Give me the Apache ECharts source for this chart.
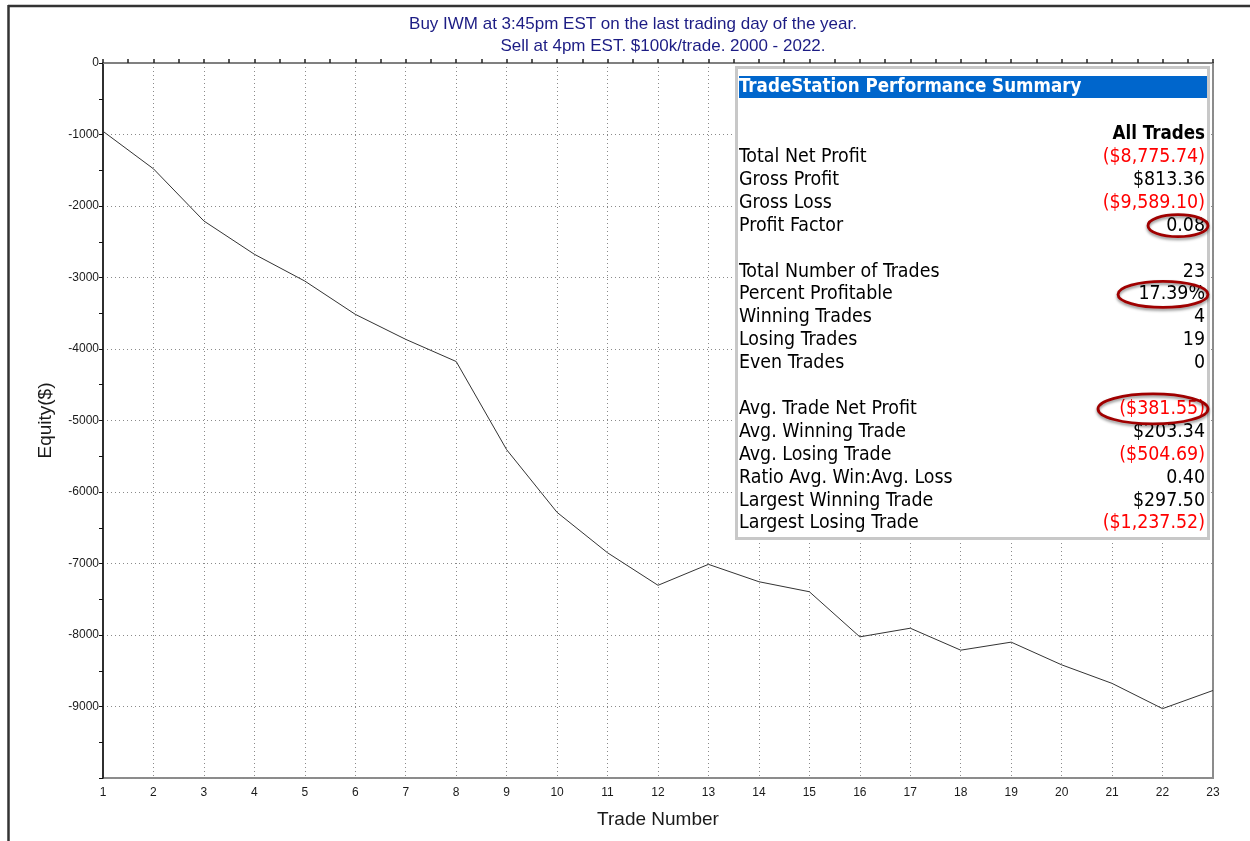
<!DOCTYPE html>
<html>
<head>
<meta charset="utf-8">
<script src="https://cdn.jsdelivr.net/npm/echarts@6/dist/echarts.min.js"></script>
<style>
    html, body { margin: 0; padding: 0; background: #fff; }
    #chart { width: 1250px; height: 841px; }
</style>
</head>
<body>
<div id="chart"></div>
<script>
// equity curve
const trades = [1, 2, 3, 4, 5, 6, 7, 8, 9, 10, 11, 12, 13, 14, 15, 16, 17, 18, 19, 20, 21, 22, 23]
const equity = [
    -955, -1480, -2210, -2675, -3050, -3515, -3865, -4175, -5408, -6285,
    -6850, -7305, -7012, -7255, -7395, -8026, -7905, -8212, -8100, -8417,
    -8677, -9030, -8776
]

const titleLines = [
    'Buy IWM at 3:45pm EST on the last trading day of the year.',
    'Sell at 4pm EST. $100k/trade. 2000 - 2022.'
]

// performance summary box (row = slot in the table, gaps are blank rows)
const summaryLabels = [
    'Total Net Profit', 'Gross Profit', 'Gross Loss', 'Profit Factor',
    'Total Number of Trades', 'Percent Profitable', 'Winning Trades', 'Losing Trades', 'Even Trades',
    'Avg. Trade Net Profit', 'Avg. Winning Trade', 'Avg. Losing Trade', 'Ratio Avg. Win:Avg. Loss',
    'Largest Winning Trade', 'Largest Losing Trade'
]
const summaryValues = [
    '($8,775.74)', '$813.36', '($9,589.10)', '0.08',
    '23', '17.39%', '4', '19', '0',
    '($381.55)', '$203.34', '($504.69)', '0.40',
    '$297.50', '($1,237.52)'
]
const summaryRows = [0, 1, 2, 3, 5, 6, 7, 8, 9, 11, 12, 13, 14, 15, 16]
const circledRows = [3, 6, 11]

const boxFont = "'DejaVu Sans Condensed', 'DejaVu Sans', sans-serif"
const rowY = (r) => 157 + r * 22.9

const graphics = []
// outer frame
graphics.push({ type: 'line', shape: { x1: 8, y1: 6, x2: 1250, y2: 6 }, style: { stroke: '#333', lineWidth: 2.5 } })
graphics.push({ type: 'line', shape: { x1: 8.5, y1: 5, x2: 8.5, y2: 841 }, style: { stroke: '#333', lineWidth: 2.5 } })
// titles
titleLines.forEach((t, i) => {
    graphics.push({
        type: 'text', x: i === 0 ? 633 : 663, y: 24 + i * 22,
        style: { text: t, fill: '#1c1c84', font: '17px "Liberation Sans", Arial', align: 'center', verticalAlign: 'middle' }
    })
})
// summary box
graphics.push({ type: 'rect', shape: { x: 736.5, y: 67.5, width: 472, height: 471 }, style: { fill: '#fff', stroke: '#c8c8c8', lineWidth: 3 }, z: 10 })
graphics.push({ type: 'rect', shape: { x: 739, y: 76, width: 468, height: 22 }, style: { fill: '#0066cc' }, z: 11 })
graphics.push({
    type: 'text', x: 739, y: 87, z: 12,
    style: { text: 'TradeStation Performance Summary', fill: '#fff', font: 'bold 18.6px ' + boxFont, verticalAlign: 'middle' }
})
graphics.push({
    type: 'text', x: 1205, y: rowY(-1), z: 12,
    style: { text: 'All Trades', fill: '#000', font: 'bold 18.6px ' + boxFont, align: 'right', verticalAlign: 'middle' }
})
summaryLabels.forEach((lab, i) => {
    const y = rowY(summaryRows[i])
    const val = summaryValues[i]
    graphics.push({ type: 'text', x: 739, y: y, z: 12, style: { text: lab, fill: '#000', font: '19.4px ' + boxFont, verticalAlign: 'middle' } })
    graphics.push({
        type: 'text', x: 1205, y: y, z: 12,
        style: { text: val, fill: val.startsWith('(') ? '#ff0000' : '#000', font: '19.4px ' + boxFont, align: 'right', verticalAlign: 'middle' }
    })
})
// red marker ellipses
const ellipseSize = [[30, 11], [45, 13], [55, 15]]
circledRows.forEach((r, i) => {
    const [rx, ry] = ellipseSize[i]
    graphics.push({
        type: 'ellipse', z: 13,
        shape: { cx: 1208 - rx, cy: rowY(r), rx: rx, ry: ry },
        style: { fill: 'none', stroke: '#a00000', lineWidth: 2.8, shadowBlur: 3, shadowColor: 'rgba(0,0,0,0.45)', shadowOffsetY: 2 }
    })
})

const labelFont = { color: '#1a1a1a', fontSize: 12, fontFamily: 'Liberation Sans' }
const gridDots = { show: true, lineStyle: { color: '#8a8a8a', type: [1, 3], width: 1 } }

const option = {
    animation: false,
    backgroundColor: '#fff',
    grid: { left: 103, right: 37, top: 63, bottom: 63, show: true, borderColor: '#8c8c8c', borderWidth: 2 },
    xAxis: [
        {
            type: 'value', min: 1, max: 23, interval: 1,
            name: 'Trade Number', nameLocation: 'middle', nameGap: 32,
            nameTextStyle: { color: '#1a1a1a', fontSize: 19, fontFamily: 'Liberation Sans' },
            axisLine: { show: true, lineStyle: { color: '#808080', width: 2 } },
            axisTick: { show: false },
            axisLabel: Object.assign({ margin: 9 }, labelFont),
            splitLine: gridDots
        },
        {
            type: 'value', position: 'top', min: 1, max: 23, interval: 0.5,
            axisLine: { show: true, lineStyle: { color: '#808080', width: 2 } },
            axisTick: { show: true, length: 4, lineStyle: { color: '#222', width: 1.5 } },
            axisLabel: { show: false },
            splitLine: { show: false }
        }
    ],
    yAxis: {
        type: 'value', min: -10000, max: 0, interval: 1000,
        name: 'Equity($)', nameLocation: 'middle', nameGap: 48,
        nameTextStyle: { color: '#1a1a1a', fontSize: 19, fontFamily: 'Liberation Sans' },
        axisLine: { show: true, lineStyle: { color: '#111', width: 1.5 } },
        axisTick: { show: true, length: 4, lineStyle: { color: '#111' } },
        minorTick: { show: true, splitNumber: 2, length: 4, lineStyle: { color: '#111' } },
        axisLabel: Object.assign({ margin: 4, formatter: (v) => (v === -10000 ? '' : String(v)) }, labelFont),
        splitLine: gridDots
    },
    series: [{
        type: 'line',
        data: trades.map((t, i) => [t, equity[i]]),
        showSymbol: false,
        lineStyle: { color: '#333', width: 1 },
        z: 5
    }],
    graphic: graphics
}

const myChart = echarts.init(document.getElementById('chart'))
myChart.setOption(option)
</script>
</body>
</html>
